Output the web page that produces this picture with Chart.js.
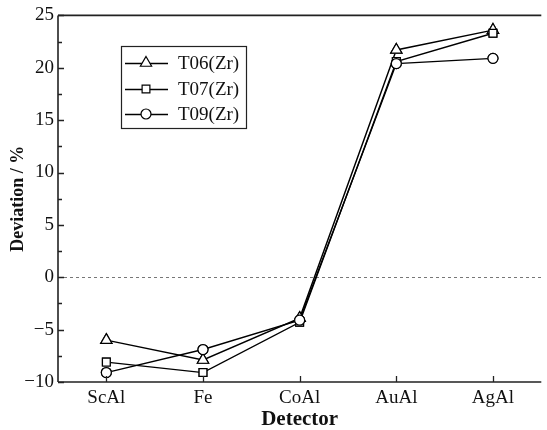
<!DOCTYPE html>
<html><head><meta charset="utf-8">
<script src="https://cdn.jsdelivr.net/npm/chart.js@4/dist/chart.umd.min.js"></script>
<style>html,body{margin:0;padding:0;background:#fff;overflow:hidden}canvas{display:block}</style>
</head><body>
<canvas id="c" width="549" height="430" style="width:549px;height:430px"></canvas>
<script>
const categories = ['ScAl', 'Fe', 'CoAl', 'AuAl', 'AgAl'];
const seriesLabels = ['T06(Zr)', 'T07(Zr)', 'T09(Zr)'];
const t06 = [-6.0, -7.9, -3.9, 21.7, 23.6];
const t07 = [-8.1, -9.1, -4.3, 20.6, 23.3];
const t09 = [-9.1, -6.9, -4.1, 20.4, 20.9];
const yMin = -10, yMax = 25, yMajor = 5, yMinor = 2.5;
const markerStyles = ['triangle', 'rect', 'circle'];
const markerSizes = [6.5, 5.5, 5];

const FONT = '"Liberation Serif", "Times New Roman", serif';
const INK = '#222';

const frame = {
  id: 'frame',
  beforeDatasetsDraw(chart) {
    const {ctx, chartArea: a, scales: {y}} = chart;
    const y0 = y.getPixelForValue(0);
    ctx.save();
    ctx.strokeStyle = '#777';
    ctx.lineWidth = 1;
    ctx.setLineDash([3, 3]);
    ctx.beginPath();
    ctx.moveTo(a.left, Math.round(y0) + 0.5);
    ctx.lineTo(a.right, Math.round(y0) + 0.5);
    ctx.stroke();
    ctx.restore();
  },
  afterDatasetsDraw(chart) {
    const {ctx, chartArea} = chart;
    chart.getSortedVisibleDatasetMetas().forEach(meta => {
      meta.data.forEach(el => el.draw(ctx, chartArea));
    });
  },
  afterDraw(chart) {
    const {ctx, chartArea: a, scales: {x, y}} = chart;
    ctx.save();
    ctx.strokeStyle = INK;
    ctx.lineWidth = 1.6;
    ctx.beginPath();
    ctx.moveTo(a.left, a.top); ctx.lineTo(a.right, a.top);
    ctx.moveTo(a.left, a.top); ctx.lineTo(a.left, a.bottom);
    ctx.moveTo(a.left, a.bottom); ctx.lineTo(a.right, a.bottom);
    ctx.stroke();
    ctx.lineWidth = 1.3;
    ctx.beginPath();
    categories.forEach((c, i) => {
      const px = Math.round(x.getPixelForValue(i)) + 0.5;
      ctx.moveTo(px, a.bottom); ctx.lineTo(px, a.bottom - 6);
    });
    y.ticks.forEach(t => {
      const py = Math.round(y.getPixelForValue(t.value)) + 0.5;
      const major = Math.abs(t.value / yMajor - Math.round(t.value / yMajor)) < 1e-6;
      ctx.moveTo(a.left, py); ctx.lineTo(a.left + (major ? 6 : 4), py);
    });
    ctx.stroke();

    // legend
    const bx = 121, by = 46, bw = 125, bh = 82;
    ctx.lineWidth = 1.2;
    ctx.strokeStyle = INK;
    ctx.strokeRect(bx + 0.5, by + 0.5, bw, bh);
    const rows = [63, 89, 114];
    chart.data.datasets.forEach((ds, i) => {
      const ry = rows[i];
      ctx.lineWidth = 1.3;
      ctx.strokeStyle = '#000';
      ctx.beginPath();
      ctx.moveTo(bx + 4, ry + 0.5); ctx.lineTo(bx + 47, ry + 0.5);
      ctx.stroke();
      ctx.fillStyle = '#fff';
      ctx.strokeStyle = '#000';
      ctx.lineWidth = 1.2;
      Chart.helpers.drawPoint(ctx, {pointStyle: ds.pointStyle, radius: ds.pointRadius, borderWidth: 1.2}, bx + 25, ry);
      ctx.fillStyle = '#111';
      ctx.font = '19px ' + FONT;
      ctx.textAlign = 'left';
      ctx.textBaseline = 'middle';
      ctx.fillText(ds.label, bx + 57, ry + 1);
    });
    ctx.restore();
  }
};

const makeDs = (label, data, i) => ({
  label, data,
  borderColor: '#000',
  borderWidth: 1.4,
  pointStyle: markerStyles[i],
  pointRadius: markerSizes[i],
  pointBackgroundColor: '#fff',
  pointBorderColor: '#000',
  pointBorderWidth: 1.2,
  tension: 0,
  fill: false
});

new Chart(document.getElementById('c'), {
  type: 'line',
  data: {
    labels: categories,
    datasets: [
      makeDs(seriesLabels[0], t06, 0),
      makeDs(seriesLabels[1], t07, 1),
      makeDs(seriesLabels[2], t09, 2)
    ]
  },
  options: {
    responsive: false,
    animation: false,
    layout: {padding: {top: 15, right: 0, left: 0, bottom: 0}},
    plugins: {legend: {display: false}, tooltip: {enabled: false}},
    scales: {
      x: {
        offset: true,
        grid: {display: false, drawTicks: false},
        border: {display: false},
        ticks: {color: '#111', font: {family: FONT, size: 19}, padding: 5, maxRotation: 0},
        title: {display: true, text: 'Detector', color: '#111', font: {family: FONT, size: 21, weight: 'bold'}, padding: {top: 0, bottom: -2}},
        afterFit(s) { s.height = 48; }
      },
      y: {
        min: yMin, max: yMax,
        grid: {display: false, drawTicks: false},
        border: {display: false},
        ticks: {
          stepSize: yMinor,
          color: '#111',
          font: {family: FONT, size: 19},
          padding: 4,
          callback(v) {
            if (Math.abs(v / yMajor - Math.round(v / yMajor)) > 1e-6) return '';
            return v < 0 ? '\u2212' + Math.abs(v) : String(v);
          }
        },
        title: {display: true, text: 'Deviation / %', color: '#111', font: {family: FONT, size: 18, weight: 'bold'}, padding: {top: 8, bottom: 0}},
        afterFit(s) { s.width = 58; }
      }
    }
  },
  plugins: [frame]
});
</script>
</body></html>
